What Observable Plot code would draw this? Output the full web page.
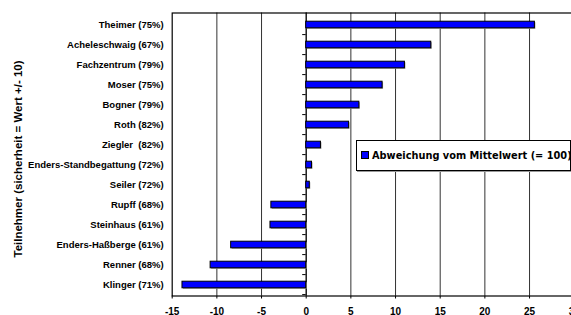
<!DOCTYPE html>
<html>
<head>
<meta charset="utf-8">
<script src="https://cdn.jsdelivr.net/npm/d3@7"></script>
<script src="https://cdn.jsdelivr.net/npm/@observablehq/plot@0.6"></script>
<style>
  html, body { margin: 0; padding: 0; background: #fff; overflow: hidden; }
  #wrap { position: relative; width: 571px; height: 315px; overflow: hidden; }
  #wrap svg { display: block; max-width: none !important; }
  #legend {
    position: absolute; left: 356px; top: 140px; width: 213px; height: 29px;
    border: 1px solid #000; background: #fff; box-shadow: 1px 1px 0 #999;
    font-family: "DejaVu Sans", sans-serif; font-weight: bold; font-size: 9.8px;
    white-space: nowrap; overflow: hidden; line-height: 29px;
  }
  #legend .sw { display: inline-block; width: 6px; height: 6px; background: #0000ff;
    border: 0.5px solid #000; margin-left: 4px; margin-right: 3px; vertical-align: 0px; }
</style>
</head>
<body>
<div id="wrap"></div>
<script>
const names = [
  "Theimer (75%)", "Acheleschwaig (67%)", "Fachzentrum (79%)", "Moser (75%)",
  "Bogner (79%)", "Roth (82%)", "Ziegler  (82%)", "Enders-Standbegattung (72%)",
  "Seiler (72%)", "Rupff (68%)", "Steinhaus (61%)", "Enders-Haßberge (61%)",
  "Renner (68%)", "Klinger (71%)"
];
const values = [25.6, 14.0, 11.05, 8.55, 5.95, 4.8, 1.65, 0.65, 0.4, -3.9, -4.0, -8.4, -10.7, -13.85];
const xTicks = [-15, -10, -5, 0, 5, 10, 15, 20, 25, 30];
const gridTicks = [-10, -5, 0, 5, 10, 15, 20, 25, 30];
const seriesName = "Abweichung vom Mittelwert (= 100)";
const yTitle = "Teilnehmer (sicherheit = Wert +/- 10)";

const data = names.map((n, i) => ({name: n, value: values[i]}));

const W = 600, H = 315;
const mL = 171.7, mT = 12.5, mB = 19.5, mR = W - 573.7;
const step = (H - mT - mB) / names.length;

const chart = Plot.plot({
  width: W, height: H,
  marginLeft: mL, marginRight: mR, marginTop: mT, marginBottom: mB,
  style: {fontFamily: "Liberation Sans, Arial, sans-serif", fontSize: "10px", color: "#000", background: "#fff", maxWidth: "none"},
  x: {domain: [-15, 30]},
  y: {domain: names, padding: 0},
  marks: [
    Plot.ruleX(gridTicks, {stroke: "#333", strokeWidth: 1}),
    Plot.ruleX([0], {stroke: "#000", strokeWidth: 1}),
    Plot.frame({stroke: "#000", strokeWidth: 1.2}),
    Plot.ruleY(data, {y: "name", x1: 0, x2: 0, insetLeft: -3.5, dy: step / 2, stroke: "#000"}),
    Plot.barX(data, {x: "value", y: "name", insetTop: 7.2, insetBottom: 6.2, dx: 1, dy: 1, fill: "#9a9a9a"}),
    Plot.barX(data, {x: "value", y: "name", insetTop: 7.2, insetBottom: 6.2, fill: "#0000ff", stroke: "#000", strokeWidth: 1}),
    Plot.axisY({tickSize: 0, tickPadding: 8.5, fontSize: 9.5, fontWeight: "bold", label: null}),
    Plot.axisX({ticks: xTicks, tickSize: 3, tickPadding: 9, tickFormat: d => String(d), fontSize: 10, fontWeight: "bold", label: null}),
    Plot.text([yTitle], {frameAnchor: "left", textAnchor: "middle", rotate: -90, dx: -154, dy: 4.5, fontSize: 11.5, fontWeight: "bold", fill: "#000"})
  ]
});
chart.style.maxWidth = "none";
const wrap = document.getElementById("wrap");
wrap.appendChild(chart);
const lg = document.createElement("div");
lg.id = "legend";
lg.innerHTML = '<span class="sw"></span>';
lg.appendChild(document.createTextNode(seriesName));
wrap.appendChild(lg);
</script>
</body>
</html>
